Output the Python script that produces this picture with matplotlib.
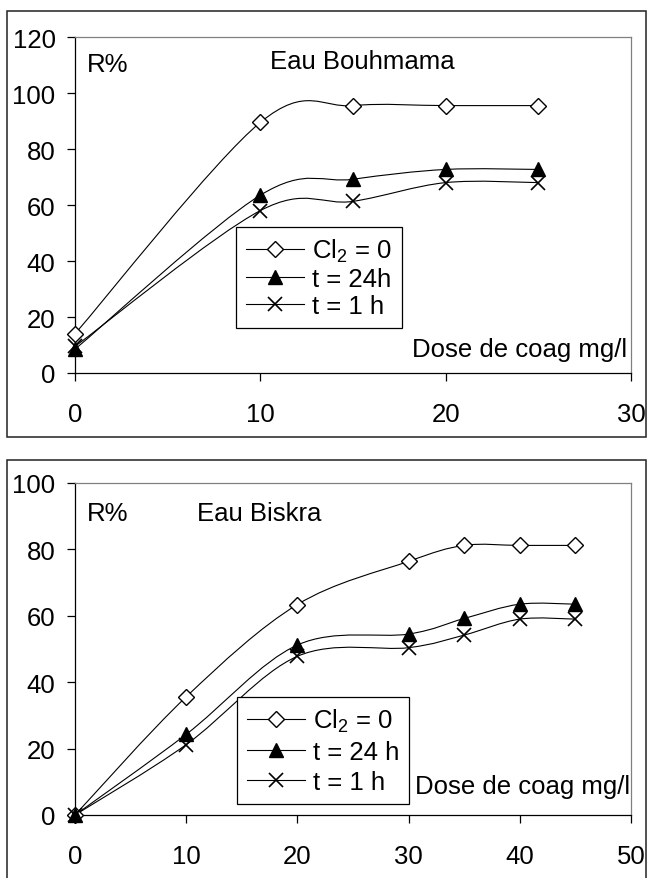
import numpy as np
import matplotlib
matplotlib.use("Agg")
import matplotlib.pyplot as plt
from matplotlib.path import Path
from matplotlib.patches import PathPatch, Rectangle
from matplotlib.lines import Line2D

plt.rcParams['font.family'] = ['Liberation Sans', 'DejaVu Sans']
plt.rcParams['mathtext.fontset'] = 'custom'
plt.rcParams['mathtext.rm'] = 'Liberation Sans'
plt.rcParams['mathtext.default'] = 'regular'

# ---------------- data ----------------
x_bouhmama = [0, 10, 15, 20, 25]
bouh_cl0 = [14, 89.5, 95.5, 95.5, 95.5]
bouh_t24 = [8.5, 63.5, 69.2, 72.7, 72.7]
bouh_t1 = [9.5, 58, 61.3, 68, 68]

x_biskra = [0, 10, 20, 30, 35, 40, 45]
bisk_cl0 = [0, 35.6, 63.4, 76.4, 81.2, 81.2, 81.2]
bisk_t24 = [0, 24.3, 51.2, 54.5, 59.2, 63.5, 63.5]
bisk_t1 = [0, 21.2, 47.8, 50.4, 54.2, 59, 59]

labels_top = ['Cl$_2$ = 0', 't = 24h', 't = 1 h']
labels_bot = ['Cl$_2$ = 0', 't = 24 h', 't = 1 h']

W, H = 647, 879
FS = 18.5

def fx(px):
    return px / W

def fy(py):
    return 1 - py / H

def smooth_path(x, y):
    pts = np.column_stack([np.asarray(x, float), np.asarray(y, float)])
    n = len(pts)
    verts = [pts[0]]
    codes = [Path.MOVETO]
    for i in range(n - 1):
        p0 = pts[max(i - 1, 0)]
        p1 = pts[i]
        p2 = pts[i + 1]
        p3 = pts[min(i + 2, n - 1)]
        c1 = p1 + (p2 - p0) / 6.0
        c2 = p2 - (p3 - p1) / 6.0
        verts += [c1, c2, p2]
        codes += [Path.CURVE4] * 3
    return Path(verts, codes)

styles = [
    dict(marker='D', ms=8.5, mfc='white', mec='black', mew=1.0),
    dict(marker='^', ms=10.5, mfc='black', mec='black', mew=1.0),
    dict(marker='x', ms=10.5, mfc='black', mec='black', mew=1.2),
]

fig = plt.figure(figsize=(W / 100, H / 100), dpi=100)

# outer frames
fig.patches.append(Rectangle((fx(7), fy(437.5)), fx(646) - fx(7), fy(12) - fy(437.5),
                             transform=fig.transFigure, fill=False, ec='#222222', lw=1.1))
fig.patches.append(Rectangle((fx(7), fy(890)), fx(646) - fx(7), fy(461) - fy(890),
                             transform=fig.transFigure, fill=False, ec='#222222', lw=1.1))

def make_panel(rect_px, x, series, labels, xmax, ymax, ystep, title, title_px,
               legend_px, lspace, rpct_px, dose_px):
    l, t, r, b = rect_px
    ax = fig.add_axes([fx(l), fy(b), fx(r) - fx(l), fy(t) - fy(b)])
    ax.set_xlim(0, xmax)
    ax.set_ylim(0, ymax)
    ax.set_xticks(np.arange(0, xmax + 1, 10))
    ax.set_yticks(np.arange(0, ymax + 1, ystep))
    for s in ['left', 'bottom']:
        ax.spines[s].set_color('black')
        ax.spines[s].set_linewidth(0.9)
    for s in ['top', 'right']:
        ax.spines[s].set_color('#808080')
        ax.spines[s].set_linewidth(0.9)
    ax.tick_params(axis='both', direction='out', length=6, width=0.9, labelsize=FS)
    ax.tick_params(axis='y', pad=8)
    ax.tick_params(axis='x', pad=15)
    handles = []
    for yv, st, lab in zip(series, styles, labels):
        ax.add_patch(PathPatch(smooth_path(x, yv), fill=False, ec='black', lw=0.8, zorder=2))
        ax.plot(x, yv, linestyle='none', zorder=3, clip_on=False, **st)
        handles.append(Line2D([], [], color='black', lw=0.8, label=lab, **st))
    leg = ax.legend(handles=handles, loc='upper left',
                    bbox_to_anchor=(fx(legend_px[0]), fy(legend_px[1])),
                    bbox_transform=fig.transFigure, fontsize=FS, frameon=True,
                    fancybox=False, framealpha=1, edgecolor='black',
                    borderaxespad=0, borderpad=0.4, labelspacing=lspace,
                    handlelength=2.25, handletextpad=0.3)
    leg.get_frame().set_linewidth(0.9)
    fig.text(fx(rpct_px[0]), fy(rpct_px[1]), 'R%', fontsize=FS, ha='left', va='center')
    fig.text(fx(title_px[0]), fy(title_px[1]), title, fontsize=FS, ha='left', va='center')
    fig.text(fx(dose_px[0]), fy(dose_px[1]), 'Dose de coag mg/l', fontsize=FS, ha='right', va='center')
    return ax

make_panel((75, 38, 631, 374), x_bouhmama, [bouh_cl0, bouh_t24, bouh_t1], labels_top,
           30, 120, 20, 'Eau Bouhmama', (270, 62), (236, 228), 0.1, (87, 65), (627, 350))
make_panel((75, 484, 631, 816), x_biskra, [bisk_cl0, bisk_t24, bisk_t1], labels_bot,
           50, 100, 20, 'Eau Biskra', (197, 514), (237, 698), 0.22, (87, 514), (630, 787))

fig.savefig('out.png', dpi=100)
